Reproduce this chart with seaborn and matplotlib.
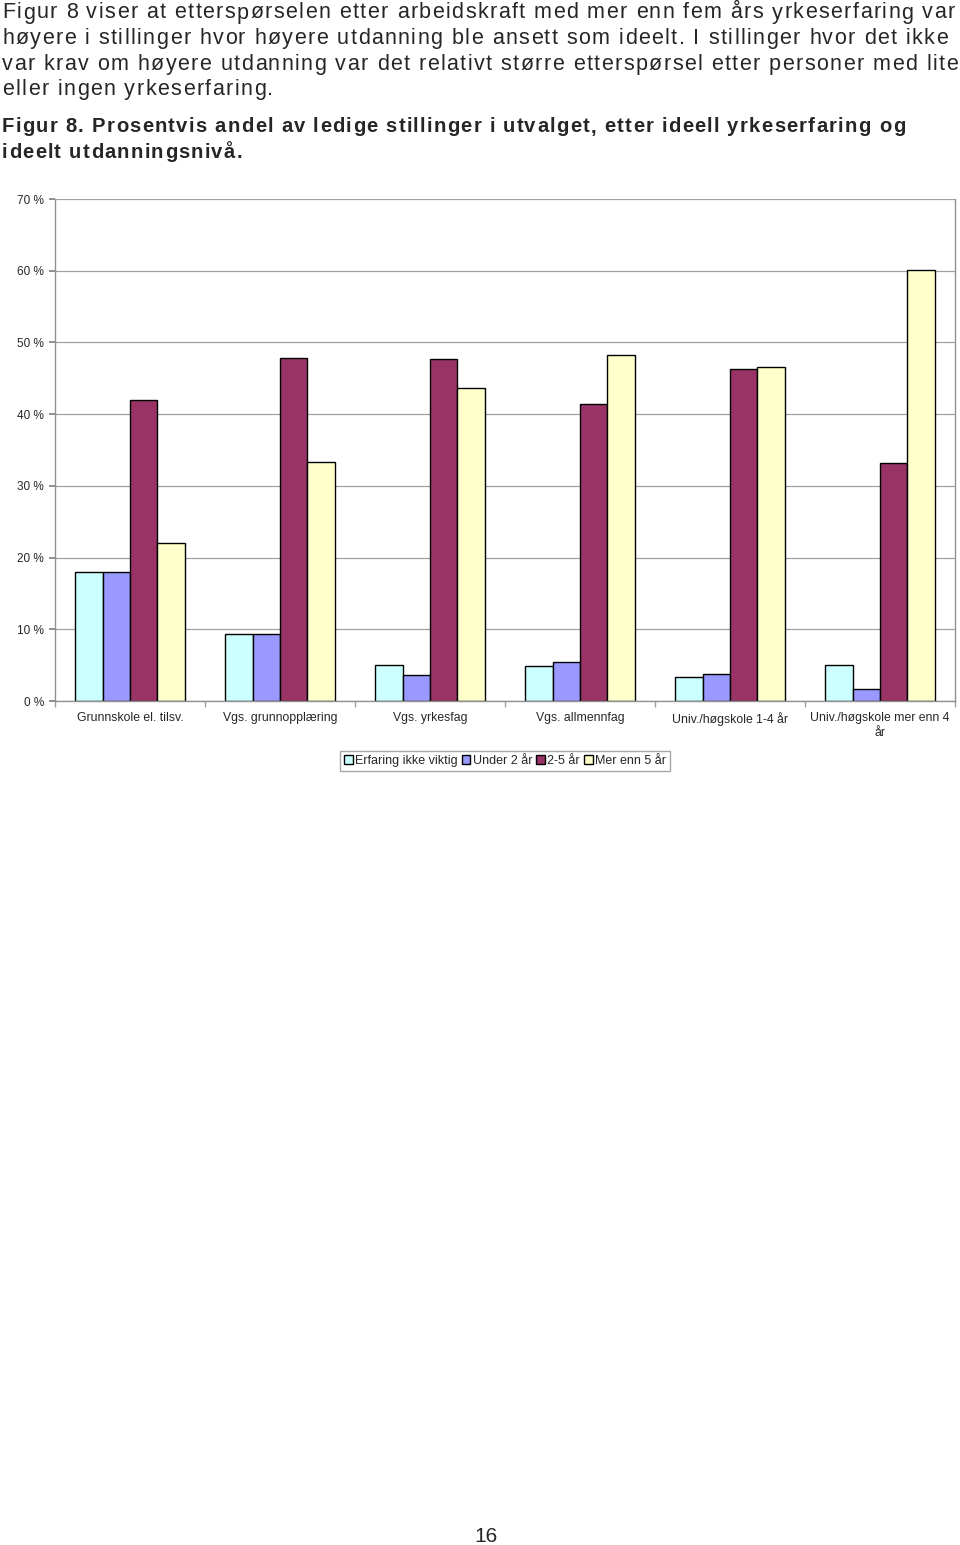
import matplotlib
matplotlib.use("Agg")
import matplotlib.pyplot as plt
import seaborn as sns
import pandas as pd
from matplotlib.patches import Patch
from matplotlib.font_manager import FontProperties

categories = ["Grunnskole el. tilsv.", "Vgs. grunnopplæring", "Vgs. yrkesfag",
              "Vgs. allmennfag", "Univ./høgskole 1-4 år", "Univ./høgskole mer enn 4\når"]
series = ["Erfaring ikke viktig", "Under 2 år", "2-5 år", "Mer enn 5 år"]
erfaring_ikke_viktig = [18.0, 9.3, 5.0, 4.9, 3.3, 5.0]
under_2_ar = [18.0, 9.3, 3.6, 5.4, 3.8, 1.7]
ar_2_5 = [42.0, 47.8, 47.7, 41.4, 46.3, 33.2]
mer_enn_5 = [22.0, 33.3, 43.7, 48.3, 46.6, 60.1]
colors = ["#CCFFFF", "#9999FF", "#993366", "#FFFFCC"]
yticks = [0, 10, 20, 30, 40, 50, 60, 70]

body = ["Figur 8 viser at etterspørselen etter arbeidskraft med mer enn fem års yrkeserfaring var",
        "høyere i stillinger hvor høyere utdanning ble ansett som ideelt. I stillinger hvor det ikke",
        "var krav om høyere utdanning var det relativt større etterspørsel etter personer med lite",
        "eller ingen yrkeserfaring."]
caption = ["Figur 8. Prosentvis andel av ledige stillinger i utvalget, etter ideell yrkeserfaring og",
           "ideelt utdanningsnivå."]

sns.set_theme(style="white")
plt.rcParams["font.family"] = ["Liberation Sans", "DejaVu Sans"]

rows = []
for s, vals in zip(series, [erfaring_ikke_viktig, under_2_ar, ar_2_5, mer_enn_5]):
    for c, v in zip(categories, vals):
        rows.append({"Utdanning": c, "Erfaring": s, "Andel": v})
df = pd.DataFrame(rows)

W, H = 960, 1545
fig = plt.figure(figsize=(W / 100, H / 100), dpi=100)
ax = fig.add_axes([55 / W, 1 - 701 / H, 900 / W, (701 - 199) / H])

sns.barplot(data=df, x="Utdanning", y="Andel", hue="Erfaring", order=categories,
            hue_order=series, palette=colors, width=0.73, gap=0, dodge=True,
            edgecolor="black", linewidth=1.0, saturation=1, ax=ax, legend=False,
            errorbar=None)

ax.set_xlim(-0.5, len(categories) - 0.5)
ax.set_ylim(0, 70)
ax.set_yticks(yticks)
ax.set_yticklabels([f"{t} %" for t in yticks], fontsize=8.5)
ax.yaxis.grid(True, color="#A0A0A0", linewidth=0.9)
ax.set_axisbelow(True)
ax.set_xlabel("")
ax.set_ylabel("")
ax.set_xticks(range(len(categories)))
ax.set_xticklabels(categories, fontsize=8.8, linespacing=1.35)
ax.tick_params(axis="x", length=0, pad=8)
ax.set_xticks([i - 0.5 for i in range(len(categories) + 1)], minor=True)
ax.tick_params(axis="x", which="minor", length=4, color="#A0A0A0", direction="out", bottom=True)
ax.tick_params(axis="y", length=4, color="#808080", direction="out", left=True, pad=4)
for side, sp in ax.spines.items():
    sp.set_color("#909090")
    sp.set_linewidth(1.0)
ax.spines["top"].set_visible(False)

handles = [Patch(facecolor=c, edgecolor="black", linewidth=1.0, label=s) for c, s in zip(colors, series)]
leg = fig.legend(handles=handles, loc="center", bbox_to_anchor=(505 / W, 1 - 761 / H), ncol=4,
                 fontsize=9.0, frameon=True, fancybox=False, handlelength=0.7, handleheight=0.7,
                 handletextpad=0.2, columnspacing=0.3, borderpad=0.3)
leg.get_frame().set_edgecolor("#909090")
leg.get_frame().set_linewidth(1.0)

renderer = fig.canvas.get_renderer()


def text_w(s, prop):
    w, _, _ = renderer.get_text_width_height_descent(s, prop, ismath=False)
    return w


def offsets(line, prop):
    # cumulative advance of each prefix (using a trailing "x" so spaces count)
    wx = text_w("x", prop)
    offs = [0.0]
    for k in range(1, len(line) + 1):
        offs.append(text_w(line[:k] + "x", prop) - wx)
    return offs


def tracked(line, x0, y, prop, tracking):
    offs = offsets(line, prop)
    for k, ch in enumerate(line):
        if ch != " ":
            fig.text((x0 + offs[k] + k * tracking) / W, 1 - y / H, ch,
                     fontproperties=prop, va="baseline", ha="left")


def tracking_for(line, prop, target):
    offs = offsets(line, prop)
    return (target - offs[-1]) / (len(line) - 1)


body_prop = FontProperties(family="Liberation Sans", size=15.5)
body_targets = [953, 946, 956]
track_body = [tracking_for(l, body_prop, t) for l, t in zip(body[:3], body_targets)]
track_body.append(sum(track_body) / 3)
for i, line in enumerate(body):
    tracked(line, 2, 18.5 + i * 25.6, body_prop, track_body[i])

cap_prop = FontProperties(family="Liberation Sans", size=14.6, weight="bold")
tc = tracking_for(caption[0], cap_prop, 903)
for i, line in enumerate(caption):
    tracked(line, 2, 132.5 + i * 25, cap_prop, tc)

fig.text(486 / W, 1 - 1537 / H, "16", fontsize=15, va="center", ha="center")

fig.savefig("out.png", dpi=100, facecolor="white")
